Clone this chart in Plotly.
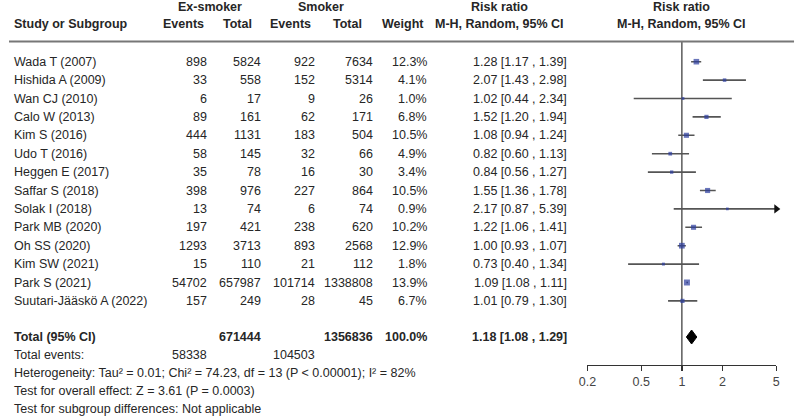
import math
import plotly.graph_objects as go

W, H = 800, 417

studies = ["Wada T (2007)", "Hishida A (2009)", "Wan CJ (2010)", "Calo W (2013)", "Kim S (2016)",
           "Udo T (2016)", "Heggen E (2017)", "Saffar S (2018)", "Solak I (2018)", "Park MB (2020)",
           "Oh SS (2020)", "Kim SW (2021)", "Park S (2021)", "Suutari-Jääskö A (2022)"]
ex_events = [898, 33, 6, 89, 444, 58, 35, 398, 13, 197, 1293, 15, 54702, 157]
ex_total = [5824, 558, 17, 161, 1131, 145, 78, 976, 74, 421, 3713, 110, 657987, 249]
sm_events = [922, 152, 9, 62, 183, 32, 16, 227, 6, 238, 893, 21, 101714, 28]
sm_total = [7634, 5314, 26, 171, 504, 66, 30, 864, 74, 620, 2568, 112, 1338808, 45]
weights = [12.3, 4.1, 1.0, 6.8, 10.5, 4.9, 3.4, 10.5, 0.9, 10.2, 12.9, 1.8, 13.9, 6.7]
rr = [1.28, 2.07, 1.02, 1.52, 1.08, 0.82, 0.84, 1.55, 2.17, 1.22, 1.00, 0.73, 1.09, 1.01]
lo = [1.17, 1.43, 0.44, 1.20, 0.94, 0.60, 0.56, 1.36, 0.87, 1.06, 0.93, 0.40, 1.08, 0.79]
hi = [1.39, 2.98, 2.34, 1.94, 1.24, 1.13, 1.27, 1.78, 5.39, 1.41, 1.07, 1.34, 1.11, 1.30]

total_ex = 671444
total_sm = 1356836
total_weight = "100.0%"
total_rr, total_lo, total_hi = 1.18, 1.08, 1.29
total_events_ex = 58338
total_events_sm = 104503
footer_lines = [
    "Heterogeneity: Tau² = 0.01; Chi² = 74.23, df = 13 (P < 0.00001); I² = 82%",
    "Test for overall effect: Z = 3.61 (P = 0.0003)",
    "Test for subgroup differences: Not applicable",
]
tick_vals = [0.2, 0.5, 1, 2, 5]
tick_text = ["0.2", "0.5", "1", "2", "5"]
x_min, x_max = 0.2, 5

# ---- layout constants (pixels) ----
FONT = "Liberation Sans, Arial, sans-serif"
FS = 12.5
TXT = "#262626"
row_y = [61.7 + 18.4 * i for i in range(len(studies))]
y_total = 337
y_tevents = 354.5
y_footer = [372.5, 390.5, 408.5]
y_sep = 41.5
y_axis = 365
col_right = {"ee": 203, "et": 258, "se": 313, "st": 372, "w": 427, "ci": 569}

fig = go.Figure()

ann = []
def txt(x, y, s, anchor="right", bold=False, size=FS):
    ann.append(dict(x=x / W, y=y, xref="paper", yref="y", text=f"<b>{s}</b>" if bold else s,
                    showarrow=False, xanchor=anchor, yanchor="middle",
                    font=dict(family=FONT, size=size, color=TXT)))

# headers
txt(204, 7, "Ex-smoker", "center", True)
txt(317, 7, "Smoker", "center", True)
txt(499, 7, "Risk ratio", "center", True)
txt(684, 7, "Risk ratio", "center", True)
txt(3, 24, "Study or Subgroup", "left", True)
txt(177, 24, "Events", "center", True)
txt(232, 24, "Total", "center", True)
txt(286, 24, "Events", "center", True)
txt(344, 24, "Total", "center", True)
txt(400, 24, "Weight", "center", True)
txt(499, 24, "M-H, Random, 95% CI", "center", True)
txt(684, 24, "M-H, Random, 95% CI", "center", True)

for i, s in enumerate(studies):
    y = row_y[i]
    txt(3, y, s, "left")
    txt(col_right["ee"], y, str(ex_events[i]))
    txt(col_right["et"], y, str(ex_total[i]))
    txt(col_right["se"], y, str(sm_events[i]))
    txt(col_right["st"], y, str(sm_total[i]))
    txt(col_right["w"], y, f"{weights[i]:.1f}%")
    txt(col_right["ci"], y, f"{rr[i]:.2f} [{lo[i]:.2f} , {hi[i]:.2f}]")

txt(3, y_total, "Total (95% CI)", "left", True)
txt(col_right["et"], y_total, str(total_ex), bold=True)
txt(col_right["st"], y_total, str(total_sm), bold=True)
txt(col_right["w"], y_total, total_weight, bold=True)
txt(col_right["ci"], y_total, f"{total_rr:.2f} [{total_lo:.2f} , {total_hi:.2f}]", bold=True)
txt(3, y_tevents, "Total events:", "left")
txt(col_right["ee"], y_tevents, str(total_events_ex))
txt(col_right["se"], y_tevents, str(total_events_sm))
for yy, s in zip(y_footer, footer_lines):
    txt(3, yy, s, "left")

# vertical line at 1
fig.add_trace(go.Scatter(x=[1, 1], y=[y_sep, y_axis], mode="lines",
                         line=dict(color="#333333", width=1.2), hoverinfo="skip"))

# CI lines
cx, cy = [], []
for i in range(len(studies)):
    cx += [max(lo[i], x_min), min(hi[i], x_max), None]
    cy += [row_y[i], row_y[i], None]
fig.add_trace(go.Scatter(x=cx, y=cy, mode="lines", line=dict(color="#555555", width=1.6),
                         hoverinfo="skip", cliponaxis=False))

# arrows for clipped CIs
ax_, ay_ = [], []
for i in range(len(studies)):
    if hi[i] > x_max:
        ax_.append(x_max); ay_.append(row_y[i])
fig.add_trace(go.Scatter(x=ax_, y=ay_, mode="markers",
                         marker=dict(symbol="triangle-right", size=8, color="#111111"),
                         cliponaxis=False, hoverinfo="skip"))

# squares
fig.add_trace(go.Scatter(x=rr, y=row_y, mode="markers",
                         marker=dict(symbol="square", color="#2b3c9e",
                                     size=[2.5 + 0.25 * w for w in weights], line=dict(width=0)),
                         cliponaxis=False, hoverinfo="skip"))

# diamond
fig.add_trace(go.Scatter(x=[total_lo, total_rr, total_hi, total_rr, total_lo],
                         y=[y_total, y_total - 7, y_total, y_total + 7, y_total],
                         mode="lines", fill="toself", fillcolor="#000000",
                         line=dict(color="#000000", width=1), hoverinfo="skip"))

# separator line
fig.add_shape(type="line", xref="paper", yref="y", x0=0, x1=798 / W, y0=y_sep, y1=y_sep,
              line=dict(color="#777777", width=2))

fig.update_layout(
    width=W, height=H, margin=dict(l=0, r=0, t=0, b=0),
    paper_bgcolor="white", plot_bgcolor="rgba(0,0,0,0)",
    showlegend=False, annotations=ann, hovermode=False,
    xaxis=dict(type="log", range=[math.log10(x_min), math.log10(x_max)],
               domain=[588 / W, 780 / W], anchor="free", position=1 - y_axis / H,
               showline=True, linecolor="#333333", linewidth=1.3, showgrid=False, zeroline=False,
               ticks="outside", ticklen=5, tickwidth=1.3, tickcolor="#333333",
               tickvals=tick_vals, ticktext=tick_text,
               tickfont=dict(family=FONT, size=FS, color="#444444")),
    yaxis=dict(range=[H, 0], domain=[0, 1], visible=False, showgrid=False, zeroline=False),
)

fig.write_html("out.html", config={"displayModeBar": False, "staticPlot": True},
               post_script="document.body.style.margin='0';document.body.style.overflow='hidden';")
